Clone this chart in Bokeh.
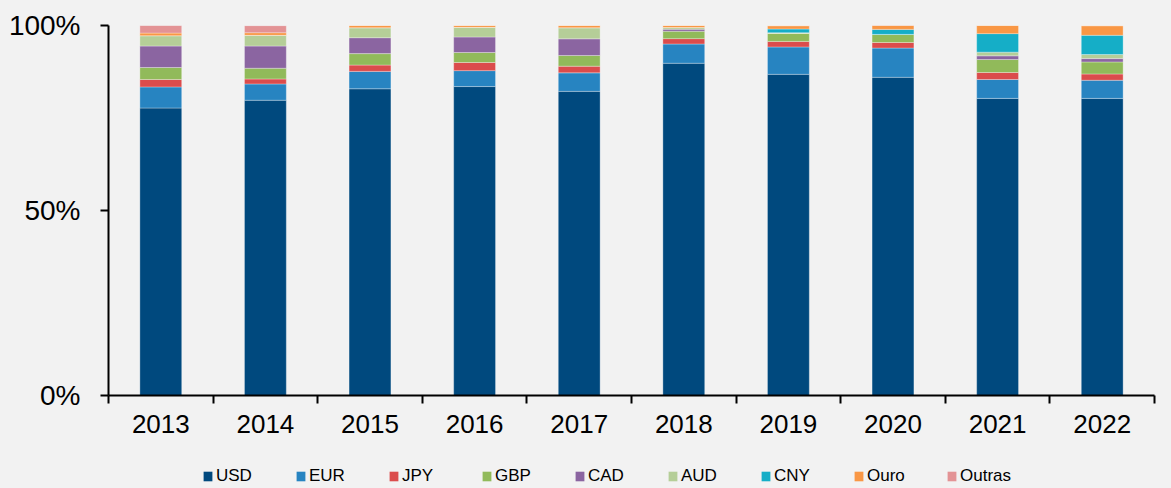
from bokeh.plotting import figure
from bokeh.layouts import column
from bokeh.models import (Range1d, FixedTicker, PrintfTickFormatter, Legend,
                          LegendItem, ColumnDataSource)
from bokeh.embed import file_html
from bokeh.resources import INLINE

years = [2013, 2014, 2015, 2016, 2017, 2018, 2019, 2020, 2021, 2022]
usd = [77.7, 79.8, 82.9, 83.5, 82.2, 89.8, 86.8, 86.0, 80.3, 80.3]
eur = [5.7, 4.4, 4.7, 4.3, 5.0, 5.2, 7.4, 7.9, 5.1, 4.9]
jpy = [2.0, 1.35, 1.7, 2.2, 1.8, 1.45, 1.5, 1.5, 1.9, 1.7]
gbp = [3.25, 2.9, 3.1, 2.7, 2.9, 2.0, 2.2, 2.2, 3.5, 3.25]
cad = [5.8, 6.0, 4.3, 4.2, 4.5, 0.55, 0.0, 0.0, 1.0, 0.9]
aud = [2.8, 2.9, 2.7, 2.6, 3.0, 0.45, 0.15, 0.0, 1.0, 1.1]
cny = [0.0, 0.0, 0.0, 0.0, 0.0, 0.0, 1.0, 1.35, 5.0, 5.2]
ouro = [0.7, 0.7, 0.6, 0.5, 0.6, 0.55, 0.9, 1.1, 2.2, 2.6]
outras = [2.1, 1.9, 0.0, 0.0, 0.0, 0.0, 0.0, 0.0, 0.0, 0.0]

series = ["USD", "EUR", "JPY", "GBP", "CAD", "AUD", "CNY", "Ouro", "Outras"]
colors = ["#00497E", "#2784C1", "#DB4C4C", "#91BA5A", "#8B65A1",
          "#B5CE98", "#15AEC7", "#F99745", "#E39395"]
y_ticks = [0, 50, 100]

src = ColumnDataSource(dict(year=years, USD=usd, EUR=eur, JPY=jpy, GBP=gbp,
                            CAD=cad, AUD=aud, CNY=cny, Ouro=ouro, Outras=outras))

BG = "#F2F2F2"
FONT = "Liberation Sans"

p = figure(frame_width=1046, frame_height=370,
           x_range=Range1d(years[0] - 0.5, years[-1] + 0.5),
           y_range=Range1d(0, 100),
           output_backend="svg", toolbar_location=None,
           min_border_left=108, min_border_right=17,
           min_border_top=25, min_border_bottom=60,
           background_fill_color=BG, border_fill_color=BG,
           outline_line_color=None)

bar_style = dict(x="year", width=0.4, source=src, fill_color=colors,
                 line_color="white", line_alpha=0.3, line_width=1)
p.vbar_stack(series, **bar_style)

p.xgrid.visible = False
p.ygrid.visible = False

xa = p.xaxis[0]
xa.ticker = FixedTicker(ticks=years,
                        minor_ticks=[y - 0.5 for y in years] + [years[-1] + 0.5])
xa.major_tick_out = 0
xa.major_tick_in = 0
xa.minor_tick_out = 8
xa.minor_tick_in = 0
xa.minor_tick_line_width = 2
xa.minor_tick_line_color = "black"
xa.axis_line_width = 2
xa.axis_line_color = "black"
xa.major_label_text_font = FONT
xa.major_label_text_font_size = "26px"
xa.major_label_text_color = "black"
xa.major_label_standoff = 11

ya = p.yaxis[0]
ya.ticker = FixedTicker(ticks=y_ticks)
ya.formatter = PrintfTickFormatter(format="%d%%")
ya.major_tick_out = 8
ya.major_tick_in = 0
ya.minor_tick_out = 0
ya.minor_tick_in = 0
ya.major_tick_line_width = 2
ya.major_tick_line_color = "black"
ya.axis_line_width = 2
ya.axis_line_color = "black"
ya.major_label_text_font = FONT
ya.major_label_text_font_size = "28px"
ya.major_label_text_color = "black"
ya.major_label_standoff = 20

# Legend strip: a second figure; its own copy of the stacks is out of view
# and only feeds the legend swatches.
leg = figure(width=1171, height=33, x_range=Range1d(0, 1), y_range=Range1d(1000, 1001),
             output_backend="svg", toolbar_location=None,
             x_axis_location=None, y_axis_location=None,
             min_border_left=0, min_border_right=0, min_border_top=0, min_border_bottom=0,
             background_fill_color=BG, border_fill_color=BG, outline_line_color=None)
leg.xgrid.visible = False
leg.ygrid.visible = False
lrs = leg.vbar_stack(series, x="year", width=0.4, source=src, fill_color=colors,
                     line_color=None)

legend = Legend(items=[LegendItem(label=s, renderers=[r]) for s, r in zip(series, lrs)],
                orientation="horizontal", location=(94, 2),
                padding=0, margin=0, spacing=4,
                glyph_width=11, glyph_height=12, label_standoff=3,
                label_width=75, label_height=20,
                label_text_font=FONT, label_text_font_size="17px",
                label_text_color="black",
                background_fill_alpha=0, border_line_alpha=0)
leg.add_layout(legend, "center")

layout = column(p, leg, spacing=0, styles={"background-color": BG})
open("out.html", "w").write(file_html(layout, INLINE))
